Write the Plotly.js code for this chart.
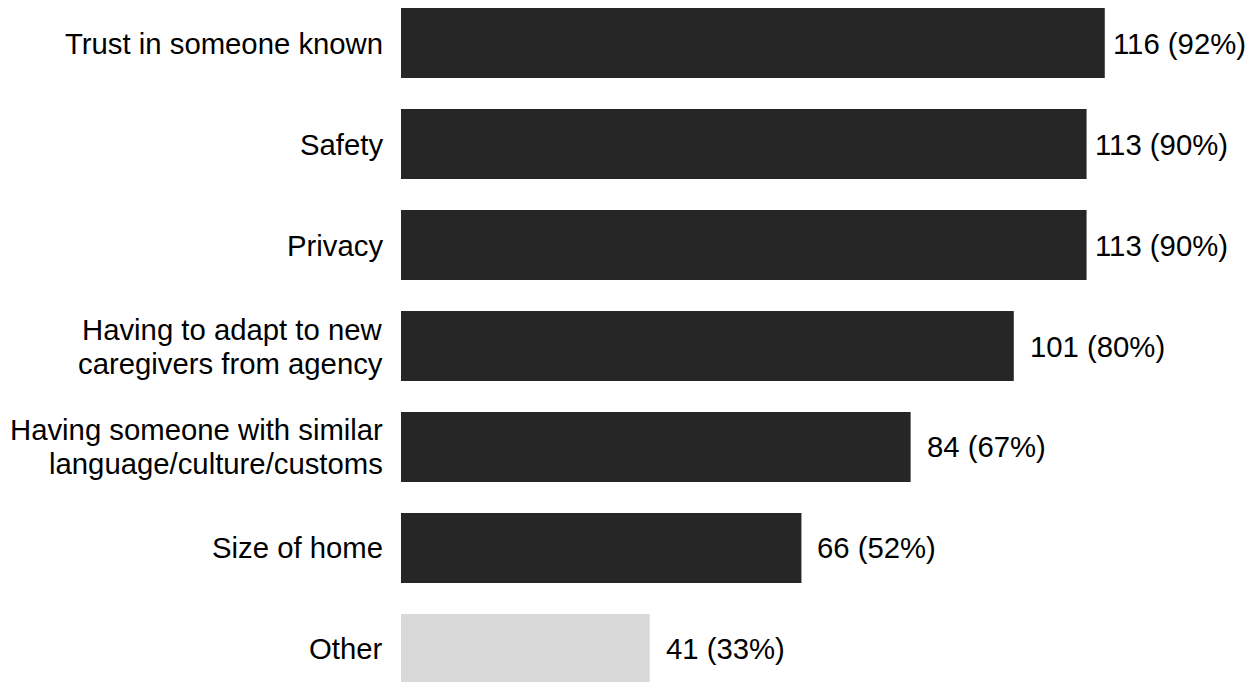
<!DOCTYPE html>
<html>
<head>
<meta charset="utf-8">
<script src="https://cdn.plot.ly/plotly-3.0.1.min.js"></script>
<style>
  html, body { margin: 0; padding: 0; background: #ffffff; }
  #chart { width: 1251px; height: 682px; }
</style>
</head>
<body>
<div id="chart"></div>
<script>
// Reasons given, top to bottom (line breaks marked with <br>)
const categories = [
  "Trust in someone known",
  "Safety",
  "Privacy",
  "Having to adapt to new<br>caregivers from agency",
  "Having someone with similar<br>language/culture/customs",
  "Size of home",
  "Other"
];
const counts = [116, 113, 113, 101, 84, 66, 41];
const percents = [92, 90, 90, 80, 67, 52, 33];
const labels = counts.map((c, i) => c + " (" + percents[i] + "%)");

const DARK = "#262626";
const LIGHT = "#d9d9d9";
const FONT = "Liberation Sans, Arial, sans-serif";
const FONT_SIZE = 29.3;
const LINE_PITCH = 34;

const barColors = categories.map(c => c === "Other" ? LIGHT : DARK);

const trace = {
  type: "bar",
  orientation: "h",
  x: counts,
  y: categories,
  width: 0.693,
  marker: { color: barColors, line: { width: 0 } },
  hoverinfo: "skip"
};

const annotations = [];

// Value labels sit just right of each bar; the longest bars get a tighter gap
counts.forEach((c, i) => {
  annotations.push({
    x: c,
    y: categories[i],
    xref: "x",
    yref: "y",
    text: labels[i],
    showarrow: false,
    xanchor: "left",
    yanchor: "middle",
    xshift: c >= 110 ? 6 : 14,
    font: { family: FONT, size: FONT_SIZE, color: "#000000" }
  });
});

// Category labels, right-aligned left of the bars, one annotation per line
// so the line pitch can be tighter than the default
categories.forEach(cat => {
  const lines = cat.split("<br>");
  lines.forEach((line, j) => {
    annotations.push({
      x: 0,
      y: cat,
      xref: "x",
      yref: "y",
      text: line,
      showarrow: false,
      xanchor: "right",
      yanchor: "middle",
      xshift: -16,
      yshift: ((lines.length - 1) / 2 - j) * LINE_PITCH,
      font: { family: FONT, size: FONT_SIZE, color: "#000000" }
    });
  });
});

const layout = {
  width: 1251,
  height: 682,
  margin: { l: 401, r: 0, t: 0, b: 0, pad: 0 },
  paper_bgcolor: "#ffffff",
  plot_bgcolor: "#ffffff",
  showlegend: false,
  font: { family: FONT, size: FONT_SIZE, color: "#000000" },
  xaxis: {
    range: [0, 140.1],
    showgrid: false,
    zeroline: false,
    showline: false,
    showticklabels: false,
    ticks: ""
  },
  yaxis: {
    type: "category",
    range: [6.327, -0.426],
    showgrid: false,
    zeroline: false,
    showline: false,
    showticklabels: false,
    ticks: ""
  },
  annotations: annotations
};

Plotly.newPlot("chart", [trace], layout, { staticPlot: true, displayModeBar: false });
</script>
</body>
</html>
